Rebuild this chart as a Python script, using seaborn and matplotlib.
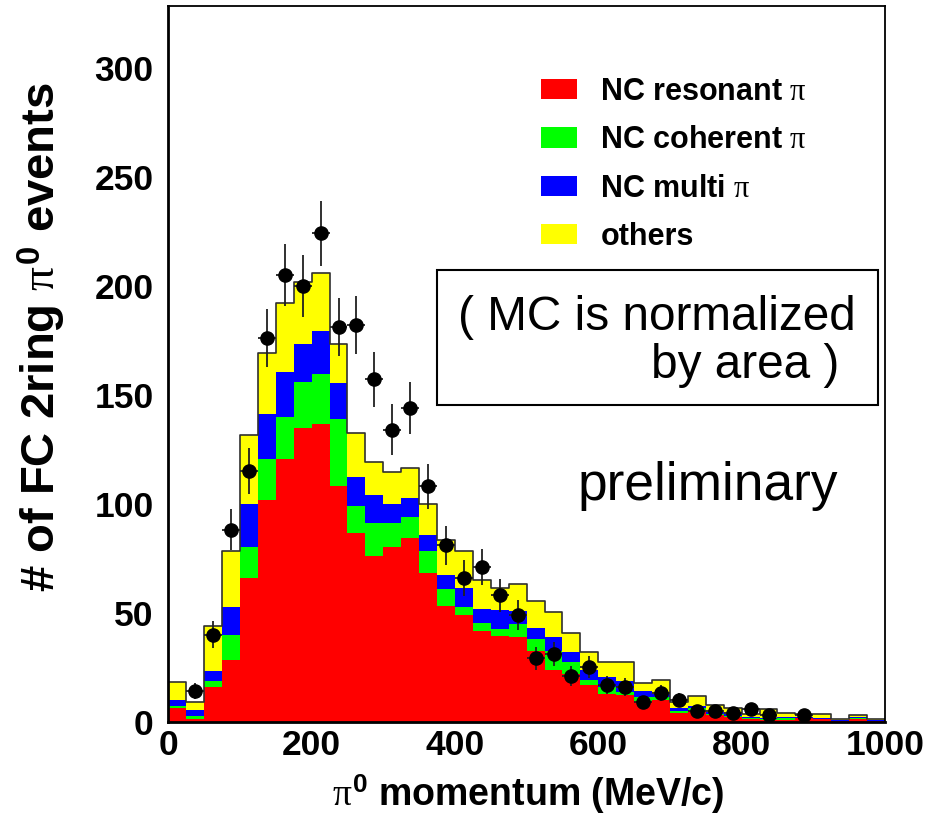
import numpy as np
import pandas as pd
import matplotlib
matplotlib.use("Agg")
import matplotlib.pyplot as plt
from matplotlib.patches import Patch, Rectangle
from matplotlib.ticker import MultipleLocator
import seaborn as sns

# ---------------- data ----------------
bin_edges = list(range(0, 1001, 25))          # pi0 momentum bins (MeV/c)
bin_centers = np.array(bin_edges[:-1]) + 12.5

# MC components per bin (events)
nc_resonant = [6.5, 1.3, 15.8, 28.3, 65.8, 101.7, 120.4, 134.7, 136.6, 108.2,
               86.4, 76.0, 80.3, 84.1, 68.4, 53.1, 48.9, 41.7, 39.3, 38.7,
               32.5, 23.5, 22.1, 17.0, 12.9, 12.3, 9.4, 10.1, 4.0, 5.5,
               3.0, 2.3, 1.2, 1.0, 1.0, 1.5, 1.1, 0.3, 1.2, 0.3]
nc_coherent = [0.9, 1.1, 3.0, 11.5, 14.2, 18.8, 19.3, 21.2, 22.7, 30.7,
               12.6, 15.0, 10.7, 9.9, 10.0, 7.6, 3.6, 3.4, 3.1, 6.1,
               5.5, 8.9, 5.2, 2.3, 3.1, 1.2, 2.0, 1.3, 0.7, 0.8,
               0.5, 0.5, 0.4, 0.3, 0.8, 0.3, 0.3, 0.2, 0.3, 0.2]
nc_multi = [2.6, 3.1, 4.5, 12.7, 20.0, 20.7, 20.7, 17.5, 20.0, 16.5,
            13.1, 13.0, 8.9, 8.5, 7.2, 6.6, 8.7, 6.5, 8.8, 6.1,
            5.0, 6.6, 4.9, 4.6, 4.6, 5.1, 2.6, 1.5, 1.6, 0.7,
            1.0, 0.7, 0.7, 0.3, 0.5, 0.3, 0.3, 0.2, 0.8, 0.2]
others = [8.4, 3.6, 20.4, 25.8, 31.4, 27.7, 31.5, 28.2, 26.5, 18.0,
          20.2, 15.0, 14.5, 14.0, 14.3, 16.0, 17.1, 13.4, 10.0, 12.3,
          12.2, 11.3, 8.6, 8.0, 6.9, 8.9, 3.8, 6.4, 2.7, 4.8,
          3.0, 2.9, 1.1, 4.4, 1.5, 1.5, 1.7, 0.4, 0.6, 0.4]

# observed data (events per bin, 0 = no point)
data_counts = [0, 14, 40, 88, 115, 176, 205, 200, 224, 181,
               182, 157, 134, 144, 108, 81, 66, 71, 58, 49,
               29, 31, 21, 25, 17, 16, 9, 13, 10, 5,
               5, 4, 6, 3, 0, 3, 0, 0, 0, 0]

legend_labels = [r"NC resonant $\pi$", r"NC coherent $\pi$",
                 r"NC multi $\pi$", "others"]
colors = ["#ff0000", "#00ff00", "#0000ff", "#ffff00"]

# ---------------- style ----------------
sns.set_style("white")
plt.rcParams["font.family"] = ["Liberation Sans", "DejaVu Sans"]
plt.rcParams["font.weight"] = "bold"
plt.rcParams["text.color"] = "black"
plt.rcParams["axes.labelcolor"] = "black"
plt.rcParams["xtick.color"] = "black"
plt.rcParams["ytick.color"] = "black"
plt.rcParams["mathtext.fontset"] = "custom"
plt.rcParams["mathtext.rm"] = "Liberation Sans:bold"
plt.rcParams["mathtext.bf"] = "Liberation Sans:bold"
plt.rcParams["mathtext.it"] = "Liberation Serif:weight=normal"

W, H = 931, 818
fig = plt.figure(figsize=(W / 100, H / 100), dpi=100)
ax_l, ax_r, ax_b, ax_t = 168.3, 885.0, 721.7, 6.0
ax = fig.add_axes([ax_l / W, (H - ax_b) / H, (ax_r - ax_l) / W, (ax_b - ax_t) / H])

# stacked MC histogram (cumulative layers drawn from top to bottom)
components = [np.array(nc_resonant), np.array(nc_coherent), np.array(nc_multi), np.array(others)]
cum = np.cumsum(components, axis=0)
for level in range(3, -1, -1):
    df = pd.DataFrame({"p": bin_centers, "w": cum[level]})
    sns.histplot(data=df, x="p", weights="w", bins=bin_edges, element="step",
                 fill=True, color=colors[level], alpha=1, linewidth=0, ax=ax)
df_tot = pd.DataFrame({"p": bin_centers, "w": cum[3]})
sns.histplot(data=df_tot, x="p", weights="w", bins=bin_edges, element="step",
             fill=False, color="#303030", linewidth=1.2, ax=ax)

# data points
dc = np.array(data_counts, dtype=float)
mask = dc > 0
ax.errorbar(bin_centers[mask], dc[mask], yerr=np.sqrt(dc[mask]), xerr=12.5,
            fmt="o", ms=9.5, color="black", ecolor="#202020", elinewidth=1.3,
            capsize=0, zorder=5)

ax.set_xlim(0, 1000)
ax.set_ylim(0, (ax_b - ax_t) / 2.18)
ax.set_xlabel("")
ax.set_ylabel("")
ax.xaxis.set_major_locator(MultipleLocator(200))
ax.xaxis.set_minor_locator(MultipleLocator(50))
ax.yaxis.set_major_locator(MultipleLocator(50))
ax.yaxis.set_minor_locator(MultipleLocator(10))
ax.tick_params(which="both", direction="in", top=False, right=False, colors="black")
ax.tick_params(which="major", length=13, width=1.4, labelsize=25.5)
ax.tick_params(which="minor", length=7, width=1.2)
ax.tick_params(axis="y", which="major", pad=10.5)
ax.tick_params(axis="x", which="major", pad=5)
for s in ax.spines.values():
    s.set_color("black")
    s.set_linewidth(1.3)
ax.spines["left"].set_linewidth(2)
ax.spines["bottom"].set_linewidth(2)

# axis titles
fig.text(42 / W, (H - 337) / H, r"# of FC 2ring $\pi^{0}$ events", rotation=90,
         ha="center", va="center", fontsize=34, fontweight="bold")
fig.text(528.5 / W, (H - 806) / H, r"$\pi^{0}$ momentum (MeV/c)",
         ha="center", va="baseline", fontsize=27, fontweight="bold")

# legend
handles = [Patch(facecolor=c, edgecolor="none") for c in colors]
fig.legend(handles, legend_labels, loc="upper left",
           bbox_to_anchor=(541 / W, (H - 77) / H), frameon=False,
           prop={"size": 22, "weight": "bold"}, handlelength=1.19,
           handleheight=0.65, handletextpad=0.75, labelspacing=0.6,
           borderpad=0, borderaxespad=0)

# normalization note box
fig.add_artist(Rectangle((437 / W, (H - 405) / H), (878 - 437) / W, (405 - 270) / H,
                         transform=fig.transFigure, fill=False,
                         edgecolor="black", linewidth=1.5))
fig.text(458 / W, (H - 330) / H, "( MC is normalized", ha="left", va="baseline",
         fontsize=34.4, fontweight="normal")
fig.text(839 / W, (H - 378) / H, "by area )", ha="right", va="baseline",
         fontsize=34.4, fontweight="normal")
fig.text(578 / W, (H - 500) / H, "preliminary", ha="left", va="baseline",
         fontsize=38.3, fontweight="normal")

fig.savefig("out.png", dpi=100)
